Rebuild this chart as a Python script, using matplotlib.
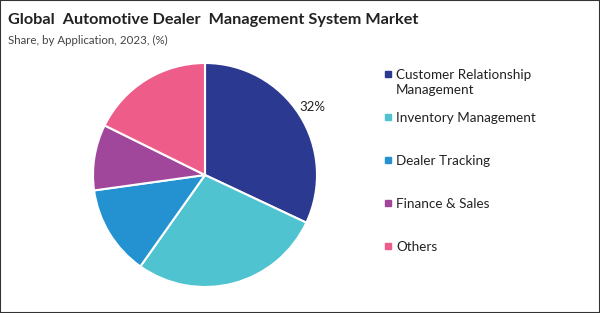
import matplotlib

matplotlib.use("Agg")
import matplotlib.pyplot as plt
import numpy as np
from matplotlib.patches import Rectangle

applications = [
    "Customer Relationship\nManagement",
    "Inventory Management",
    "Dealer Tracking",
    "Finance & Sales",
    "Others",
]
shares = [32.0, 27.8, 13.0, 9.5, 17.7]
colors = ["#2b3990", "#4fc3cf", "#2491d0", "#a0479b", "#ee5c8a"]
shown_labels = ["32%", "", "", "", ""]

plt.rcParams["font.family"] = ["Lato", "DejaVu Sans"]

W, H = 600, 313
fig = plt.figure(figsize=(W / 100, H / 100), dpi=100)

# pie axes: centre ~(205,175) px, radius ~112 px
r = 112
ax = fig.add_axes([(205 - r) / W, (H - 175 - r) / H, 2 * r / W, 2 * r / H])
wedges, _ = ax.pie(
    shares,
    colors=colors,
    startangle=90,
    counterclock=False,
    wedgeprops=dict(edgecolor="white", linewidth=1.5),
)
ax.set_xlim(-1, 1)
ax.set_ylim(-1, 1)
ax.set_aspect("equal")
ax.axis("off")

for w, lab in zip(wedges, shown_labels):
    if not lab:
        continue
    ang = np.deg2rad((w.theta1 + w.theta2) / 2)
    ax.text(1.14 * np.cos(ang), 1.14 * np.sin(ang), lab,
            ha="center", va="center", fontsize=9.5, color="#222222")

fig.text(8 / W, 1 - 20 / H, "Global  Automotive Dealer  Management System Market",
         fontsize=11.7, fontweight="bold", color="#222222", va="center")
fig.text(8 / W, 1 - 40 / H, "Share, by Application, 2023, (%)",
         fontsize=8.3, color="#444444", va="center")

# legend drawn by hand
for i, (lab, c) in enumerate(zip(applications, colors)):
    y = 74 + 43 * i
    fig.patches.append(Rectangle((385 / W, 1 - (y + 3) / H), 6 / W, 6 / H,
                                 transform=fig.transFigure, color=c))
    fig.text(396 / W, 1 - (y - 5) / H, lab, fontsize=9.7, color="#222222",
             va="top", linespacing=1.3)

fig.patches.append(Rectangle((0, 0), 1, 1, transform=fig.transFigure,
                             fill=False, edgecolor="#333333", linewidth=1.5))

fig.savefig("out.png", dpi=100)
